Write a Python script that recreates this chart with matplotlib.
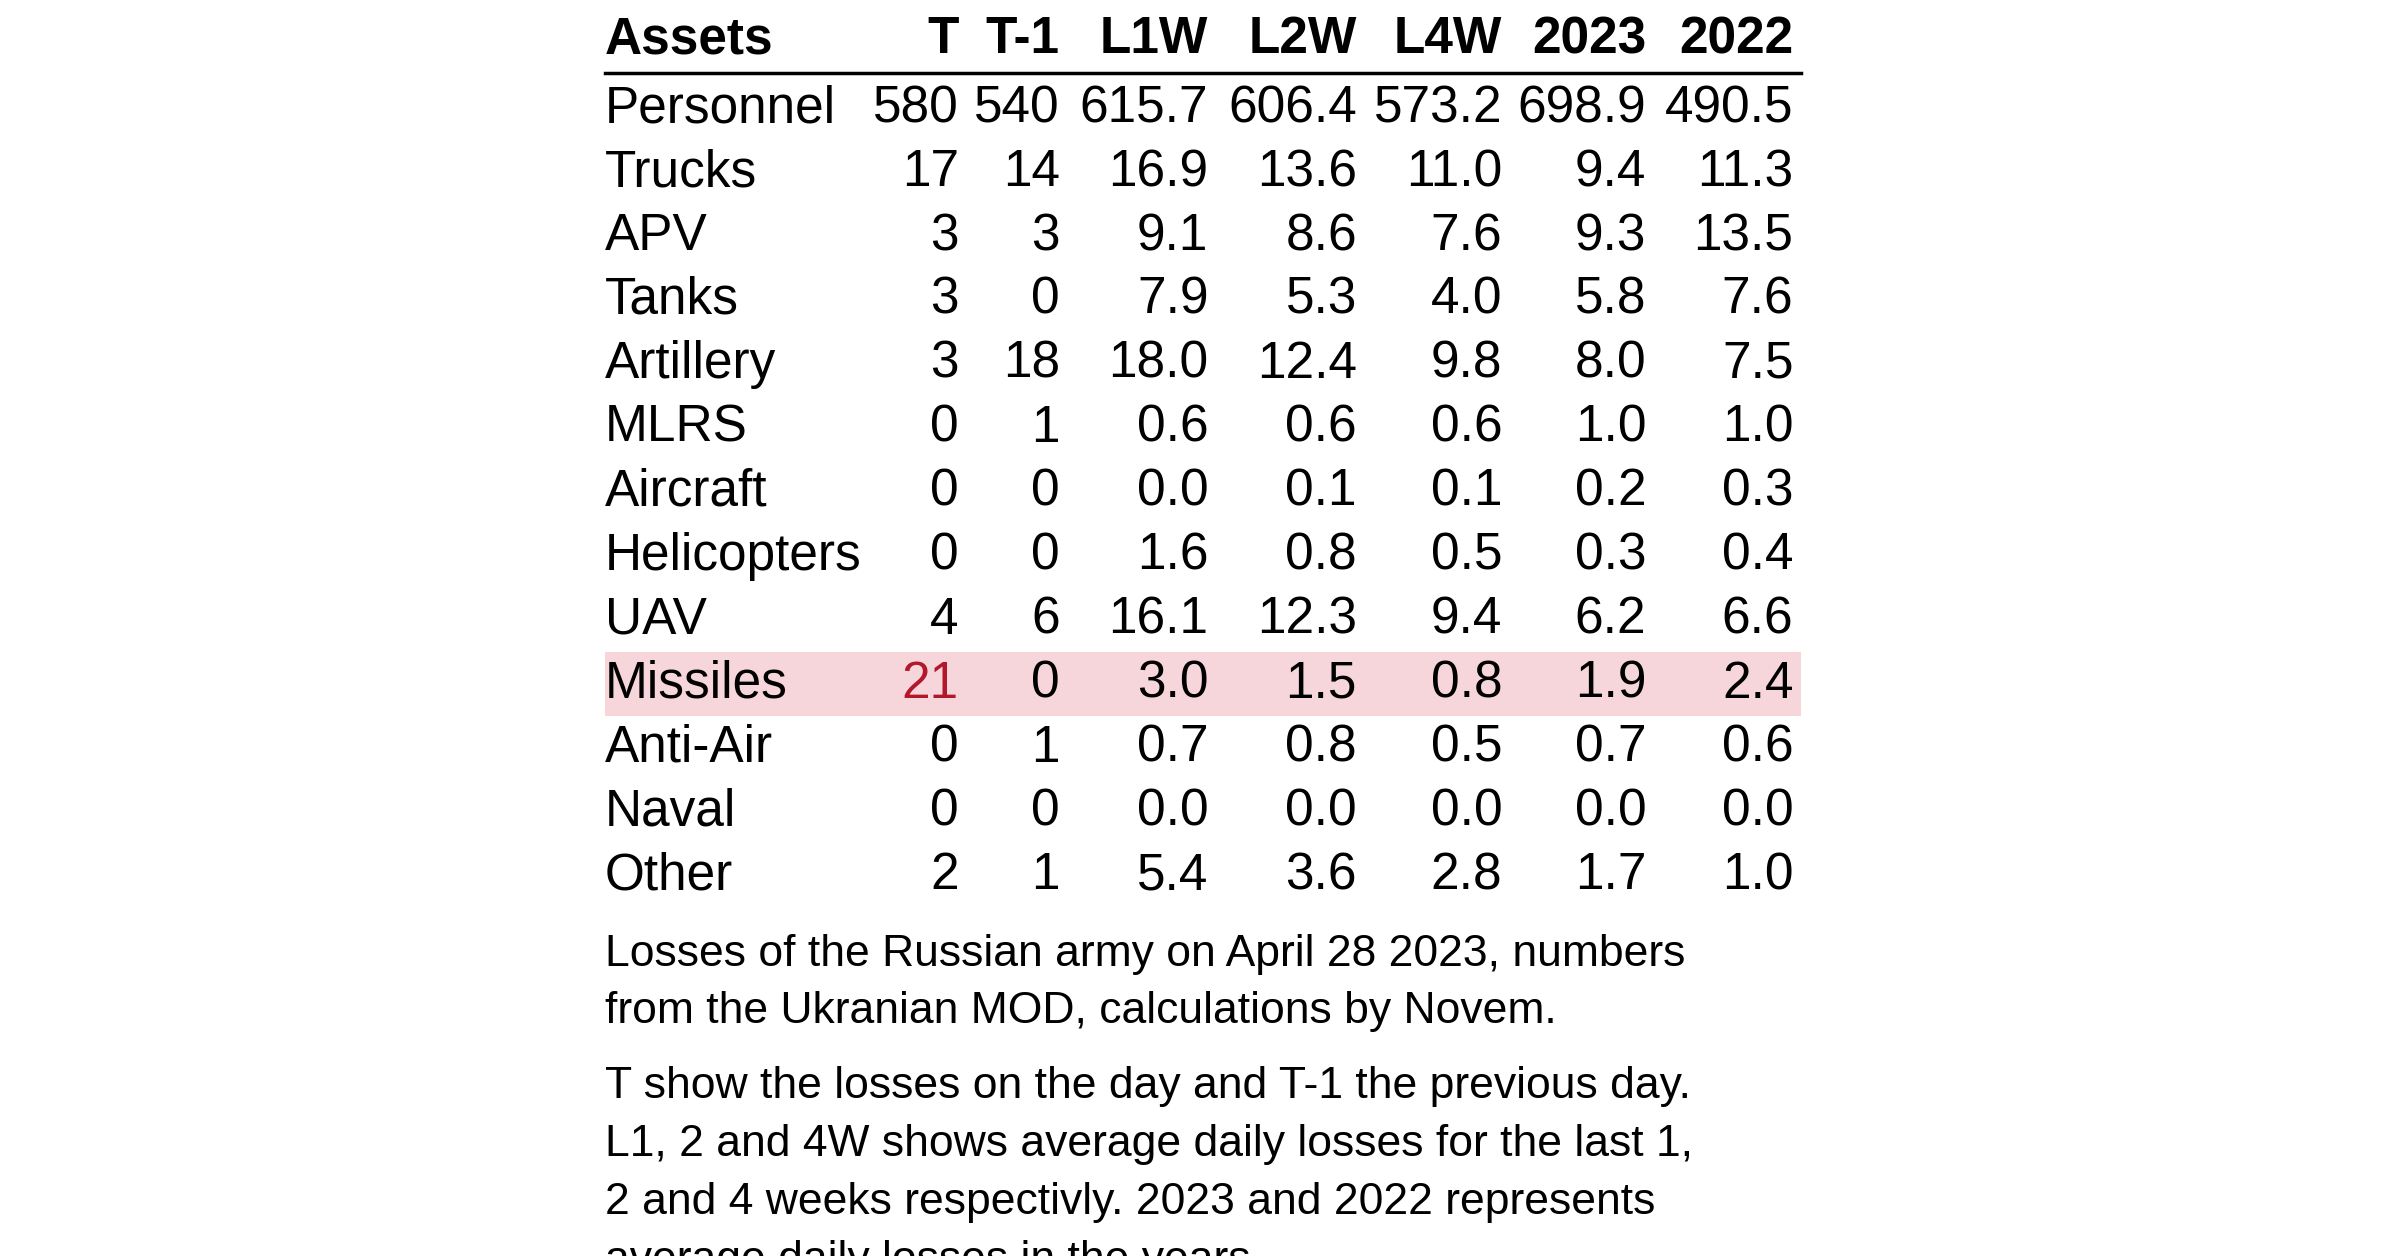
import matplotlib.pyplot as plt
from matplotlib.patches import Rectangle

plt.rcParams['font.family'] = ['Liberation Sans', 'DejaVu Sans']

columns = ["Assets", "T", "T-1", "L1W", "L2W", "L4W", "2023", "2022"]
assets = ["Personnel", "Trucks", "APV", "Tanks", "Artillery", "MLRS", "Aircraft",
          "Helicopters", "UAV", "Missiles", "Anti-Air", "Naval", "Other"]
t_vals = [580, 17, 3, 3, 3, 0, 0, 0, 4, 21, 0, 0, 2]
t1_vals = [540, 14, 3, 0, 18, 1, 0, 0, 6, 0, 1, 0, 1]
l1w = [615.7, 16.9, 9.1, 7.9, 18.0, 0.6, 0.0, 1.6, 16.1, 3.0, 0.7, 0.0, 5.4]
l2w = [606.4, 13.6, 8.6, 5.3, 12.4, 0.6, 0.1, 0.8, 12.3, 1.5, 0.8, 0.0, 3.6]
l4w = [573.2, 11.0, 7.6, 4.0, 9.8, 0.6, 0.1, 0.5, 9.4, 0.8, 0.5, 0.0, 2.8]
y2023 = [698.9, 9.4, 9.3, 5.8, 8.0, 1.0, 0.2, 0.3, 6.2, 1.9, 0.7, 0.0, 1.7]
y2022 = [490.5, 11.3, 13.5, 7.6, 7.5, 1.0, 0.3, 0.4, 6.6, 2.4, 0.6, 0.0, 1.0]
highlight = "Missiles"
caption1 = ["Losses of the Russian army on April 28 2023, numbers",
            "from the Ukranian MOD, calculations by Novem."]
caption2 = ["T show the losses on the day and T-1 the previous day.",
            "L1, 2 and 4W shows average daily losses for the last 1,",
            "2 and 4 weeks respectivly. 2023 and 2022 represents",
            "average daily losses in the years."]

W, H = 1567, 821
fig = plt.figure(figsize=(24, 12.56), dpi=100)
ax = fig.add_axes([0, 0, 1, 1])
ax.set_xlim(0, W)
ax.set_ylim(H, 0)
ax.axis("off")

left = 395
right_edges = [626, 692, 789, 886, 981, 1075, 1171]
fs = 37

ax.text(left, 26, columns[0], fontsize=fs, fontweight="bold", va="center", ha="left")
for c, xr in zip(columns[1:], right_edges):
    ax.text(xr, 26, c, fontsize=fs, fontweight="bold", va="center", ha="right")
ax.plot([left, 1176], [48, 48], color="black", lw=2.5)

y0, dy = 71, 41.8
for i, a in enumerate(assets):
    y = y0 + i * dy
    if a == highlight:
        ax.add_patch(Rectangle((left, y - dy / 2), 1176 - left, dy,
                               color="#f7d6db", lw=0, zorder=0))
    ax.text(left, y, a, fontsize=fs, va="center", ha="left")
    vals = [str(t_vals[i]), str(t1_vals[i])] + [f"{v[i]:.1f}" for v in (l1w, l2w, l4w, y2023, y2022)]
    for j, (v, xr) in enumerate(zip(vals, right_edges)):
        color = "#b2182b" if (a == highlight and j == 0) else "black"
        ax.text(xr, y, v, fontsize=fs, va="center", ha="right", color=color)

for k, line in enumerate(caption1):
    ax.text(left, 624 + k * 37, line, fontsize=32, va="center", ha="left")
for k, line in enumerate(caption2):
    ax.text(left, 710 + k * 38, line, fontsize=32, va="center", ha="left")

fig.savefig("out.png", dpi=100, facecolor="white")
